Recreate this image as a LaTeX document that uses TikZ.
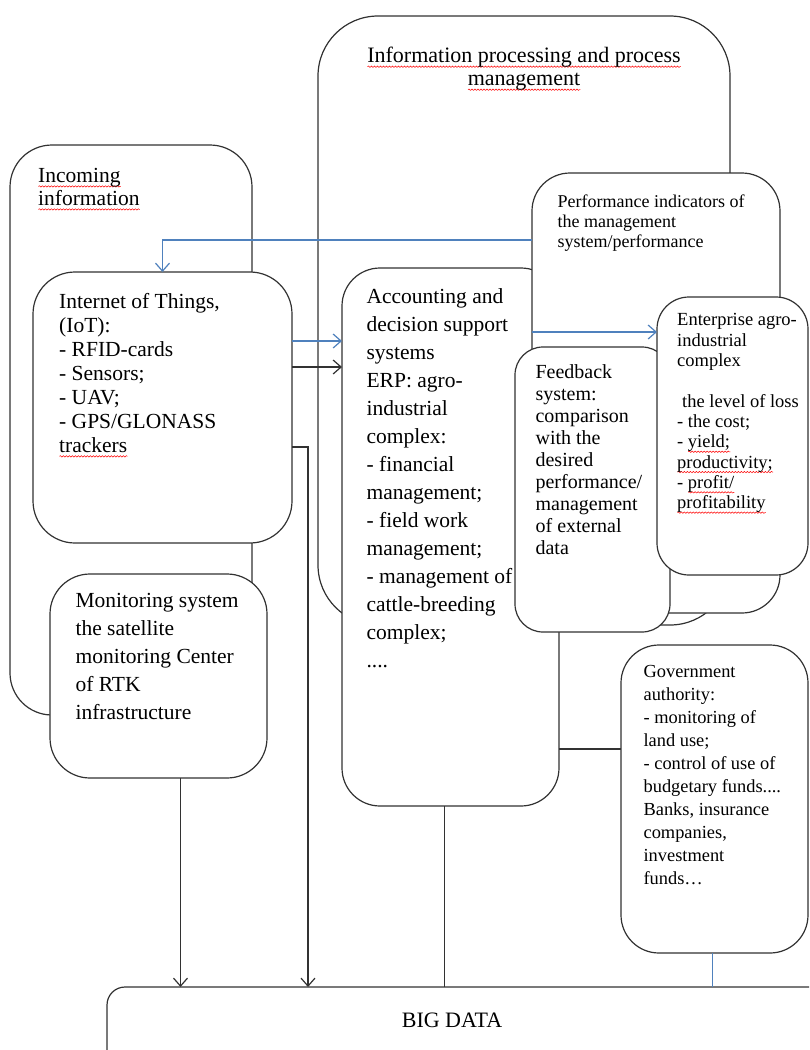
\documentclass[tikz,border=0pt]{standalone}
\usepackage{fontspec}
\setmainfont{Liberation Serif}
\usetikzlibrary{positioning,calc,arrows.meta,decorations.pathmorphing}
\definecolor{lineblue}{RGB}{79,129,189}
\definecolor{ink}{RGB}{50,50,50}
\newcommand\spellwave[1]{\setbox0\hbox{#1}\rlap{\tikz[baseline=0pt]\draw[red, line width=0.5pt, decorate,
    decoration={snake, amplitude=0.7pt, segment length=3pt}] (0pt,-4pt) -- (\wd0,-4pt);}\box0}

\begin{document}
\begin{tikzpicture}[x=1pt, y=-1pt, line width=1.2pt, >={Straight Barb[length=8pt,width=14pt]},
        panel/.style={rectangle, draw=ink, fill=white, anchor=north west, inner sep=0pt, outer sep=0pt},
        txt/.style={anchor=north west, inner sep=0pt, align=left},
        link/.style={draw=ink},
        bluelink/.style={draw=lineblue}]
        \clip (0,0) rectangle (809,1050);

        % outer groups
        \node [panel, rounded corners=60pt, minimum width=412pt, minimum height=609pt] (proc) at (318,16) {};
        \node [txt, align=center, font=\fontsize{22}{23}\selectfont, below=31pt of proc.north] (proctitle)
            {\spellwave{Information processing and process}\\ \spellwave{management}};
        \node [panel, rounded corners=42pt, minimum width=242pt, minimum height=570pt] (inc) at (10,145) {};
        \node [txt, font=\fontsize{21.5}{23}\selectfont, below right=23pt and 28pt of inc.north west] (inctitle)
            {\spellwave{Incoming}\\ \spellwave{information}};

        % sources
        \node [panel, rounded corners=42pt, minimum width=259pt, minimum height=271pt] (iot) at (33,272) {};
        \node [txt, font=\fontsize{21.5}{24}\selectfont, below right=21pt and 26pt of iot.north west] (iottxt)
            {Internet of Things,\\ (IoT):\\ - RFID-cards\\ - Sensors;\\ - UAV;\\ - GPS/GLONASS\\ \spellwave{trackers}};
        \node [panel, rounded corners=40pt, minimum width=217pt, minimum height=204pt] (mon) at (50,574) {};
        \node [txt, font=\fontsize{21.5}{28}\selectfont, below right=19pt and 25pt of mon.north west] (montxt)
            {Monitoring system\\ the satellite\\ monitoring Center\\ of RTK\\ infrastructure};

        % processing
        \node [panel, rounded corners=38pt, minimum width=217pt, minimum height=538pt] (acc) at (342,268) {};
        \node [txt, font=\fontsize{21.5}{28}\selectfont, below right=20pt and 24pt of acc.north west] (acctxt)
            {Accounting and\\ decision support\\ systems\\ ERP: agro-\\ industrial\\ complex:\\ - financial\\ management;\\
             - field work\\ management;\\ - management of\\ cattle-breeding\\ complex;\\ ....};
        \node [panel, rounded corners=38pt, minimum width=248pt, minimum height=440pt] (perf) at (532,173) {};
        \node [txt, font=\fontsize{18}{20}\selectfont, below right=21pt and 25pt of perf.north west] (perftxt)
            {Performance indicators of\\ the management\\ system/performance};
        \node [panel, rounded corners=28pt, minimum width=155pt, minimum height=285pt] (fb) at (515,347) {};
        \node [txt, font=\fontsize{20}{22}\selectfont, below right=17pt and 20pt of fb.north west] (fbtxt)
            {Feedback\\ system:\\ comparison\\ with the\\ desired\\ performance/\\ management\\ of external\\ data};
        \node [panel, rounded corners=32pt, minimum width=151pt, minimum height=278pt] (ent) at (657,297) {};
        \node [txt, font=\fontsize{18.5}{20.3}\selectfont, below right=16.5pt and 20pt of ent.north west] (enttxt)
            {Enterprise agro-\\ industrial\\ complex\\[20.3pt] \hspace{5pt}the level of loss\\ - the cost;\\
             - \spellwave{yield;}\\ \spellwave{productivity;}\\ - \spellwave{profit/}\\ \spellwave{profitability}};

        % consumers
        \node [panel, rounded corners=38pt, minimum width=187pt, minimum height=308pt] (gov) at (621,645) {};
        \node [txt, font=\fontsize{18.4}{23}\selectfont, below right=19.5pt and 22pt of gov.north west] (govtxt)
            {Government\\ authority:\\ - monitoring of\\ land use;\\ - control of use of\\ budgetary funds....\\
             Banks, insurance\\ companies,\\ investment\\ funds\dots};
        \node [panel, rounded corners=18pt, minimum width=760pt, minimum height=120pt] (big) at (107,987) {};
        \node [inner sep=0pt, font=\fontsize{22}{24}\selectfont] (bigtxt) at ($(big.north west)+(345,33)$) {BIG DATA};

        % connectors
        \coordinate (monout) at ([xshift=22pt]mon.south);
        \coordinate (accout) at ([xshift=-6pt]acc.south);
        \coordinate (govout) at ([xshift=-2pt]gov.south);
        \draw [bluelink, ->] ([yshift=-67pt]perf.north west) -| (iot.north);
        \draw [bluelink, ->] (iot.east |- 0,341) -- (acc.west |- 0,341);
        \draw [link, ->] (iot.east |- 0,367) -- (acc.west |- 0,367);
        \draw [bluelink, ->] (perf.west |- 0,332) -- (ent.west |- 0,332);
        \draw [link, ->] (iot.east |- 0,447) -| ([xshift=201pt]big.north west);
        \draw [link, ->] (monout) -- (monout |- big.north);
        \draw [link] (accout) -- (accout |- big.north);
        \draw [link] (acc.east |- 0,749) -- (gov.west |- 0,749);
        \draw [bluelink, line width=0.8pt] (govout) -- (govout |- big.north);
    \end{tikzpicture}
\end{document}
